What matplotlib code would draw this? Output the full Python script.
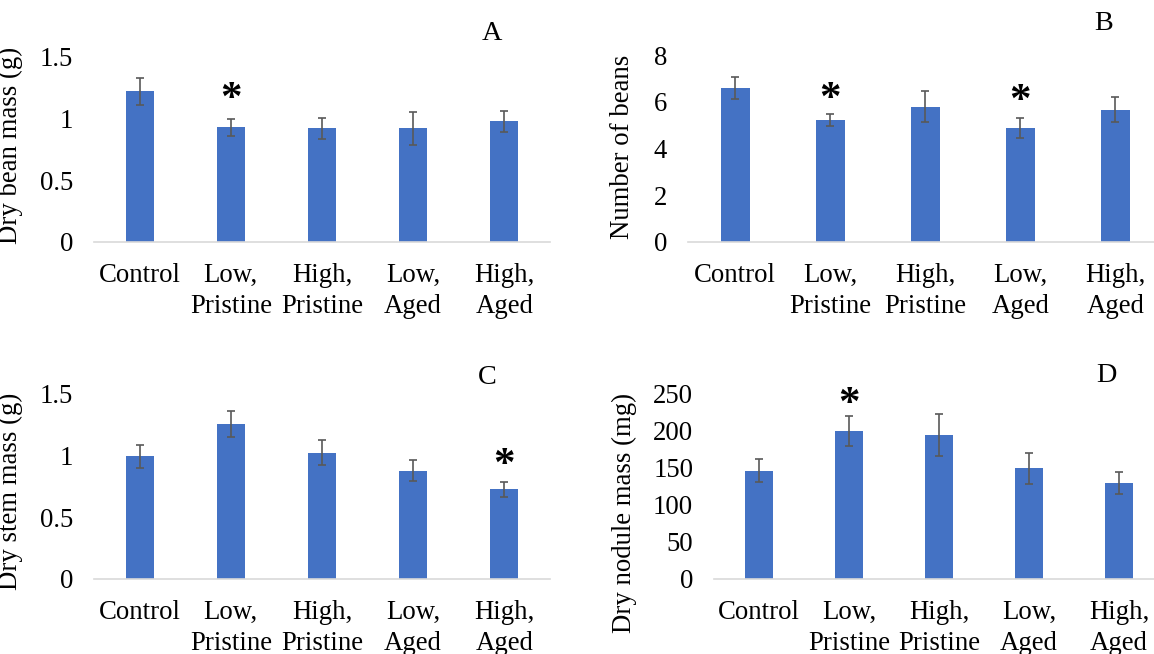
import matplotlib
matplotlib.use('Agg')
import matplotlib.pyplot as plt

plt.rcParams['font.family'] = ['Liberation Serif', 'DejaVu Serif']

# data
groups = ['Control', 'Low,\nPristine', 'High,\nPristine', 'Low,\nAged', 'High,\nAged']

beanMass = [1.22, 0.93, 0.92, 0.92, 0.98]
beanMassErr = [0.11, 0.07, 0.085, 0.13, 0.085]

beanCount = [6.6, 5.22, 5.8, 4.88, 5.67]
beanCountErr = [0.47, 0.26, 0.67, 0.42, 0.53]

stemMass = [0.99, 1.25, 1.02, 0.874, 0.723]
stemMassErr = [0.09, 0.105, 0.1, 0.085, 0.06]

noduleMass = [146, 199, 194, 149, 129]
noduleMassErr = [15, 20, 28, 21, 15]

# which bars get a star, and where (data units)
starsA = [(1, 1.15)]
starsB = [(1, 6.07), (3, 5.99)]
starsC = [(4, 0.91)]
starsD = [(1, 234)]

barColor = '#4472C4'
errColor = '#595959'
fs = 19.3


def panel(rect, values, errs, yticks, yticklabels, ylabel, labelpos, stars):
    ax = fig.add_axes(rect)
    x = list(range(len(values)))
    ax.bar(x, values, width=0.31, color=barColor, zorder=2)
    ax.errorbar(x, values, yerr=errs, fmt='none', ecolor=errColor,
                elinewidth=1.2, capsize=3, capthick=1.2, zorder=3)
    ax.set_xlim(-0.5, len(values) - 0.5)
    ax.set_ylim(yticks[0], yticks[-1])
    ax.set_yticks(yticks)
    ax.set_yticklabels(yticklabels)
    ax.set_xticks(x)
    ax.set_xticklabels(groups, linespacing=1.3)
    ax.tick_params(axis='both', length=0, labelsize=fs)
    ax.tick_params(axis='y', pad=15)
    ax.tick_params(axis='x', pad=15)
    for s in ['top', 'right', 'left']:
        ax.spines[s].set_visible(False)
    ax.spines['bottom'].set_color('#D9D9D9')
    ax.spines['bottom'].set_linewidth(1.2)
    ax.set_ylabel(ylabel, fontsize=fs)
    ax.yaxis.set_label_coords(labelpos[0], labelpos[1])
    for sx, sy in stars:
        ax.text(sx, sy, '*', fontsize=31, fontweight='bold', ha='center', va='center')
    return ax


fig = plt.figure(figsize=(11.54, 6.54), dpi=100)

panel([0.0815, 0.630, 0.395, 0.283], beanMass, beanMassErr,
      [0, 0.5, 1, 1.5], ['0', '0.5', '1', '1.5'], 'Dry bean mass (g)', (-0.156, 0.52), starsA)
panel([0.596, 0.630, 0.4116, 0.2855], beanCount, beanCountErr,
      [0, 2, 4, 6, 8], ['0', '2', '4', '6', '8'], 'Number of beans', (-0.112, 0.507), starsB)
panel([0.0815, 0.1147, 0.395, 0.284], stemMass, stemMassErr,
      [0, 0.5, 1, 1.5], ['0', '0.5', '1', '1.5'], 'Dry stem mass (g)', (-0.156, 0.47), starsC)
panel([0.6187, 0.1147, 0.39, 0.284], noduleMass, noduleMassErr,
      [0, 50, 100, 150, 200, 250], ['0', '50', '100', '150', '200', '250'],
      'Dry nodule mass (mg)', (-0.171, 0.355), starsD)

fig.text(492 / 1154, 1 - 33 / 654, 'A', fontsize=fs + 1, ha='center', va='center')
fig.text(1104 / 1154, 1 - 24 / 654, 'B', fontsize=fs + 1, ha='center', va='center')
fig.text(487 / 1154, 1 - 378 / 654, 'C', fontsize=fs + 1, ha='center', va='center')
fig.text(1106 / 1154, 1 - 376 / 654, 'D', fontsize=fs + 1, ha='center', va='center')

fig.savefig('out.png', dpi=100)
